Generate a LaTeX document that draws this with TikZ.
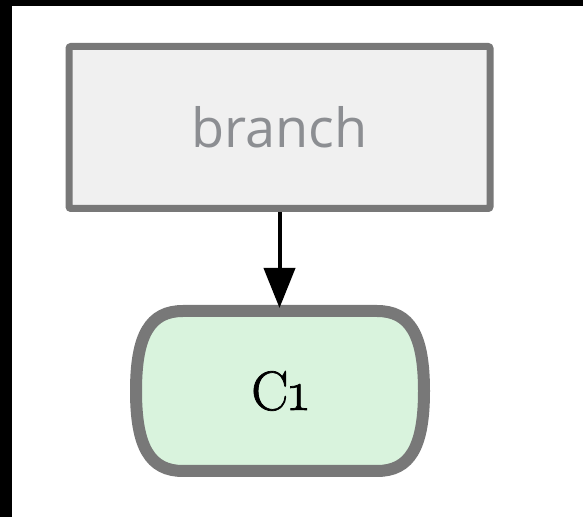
\documentclass[tikz,border=0pt]{standalone}
\usepackage{fontspec}
\setsansfont{Open Sans}
\newfontfamily\commitfont[FakeBold=1.3, Numbers=OldStyle]{Latin Modern Roman}
\usetikzlibrary{arrows.meta}
\definecolor{edgegray}{RGB}{120,120,120}
\definecolor{boxfill}{RGB}{240,240,240}
\definecolor{labelgray}{RGB}{140,142,146}
\definecolor{commitfill}{RGB}{217,243,221}
\tikzset{
  branchbox/.style={draw=edgegray, fill=boxfill, line width=3.5pt, rounded corners=1pt,
    minimum width=210.5pt, minimum height=81pt, inner sep=0pt,
    text=labelgray, font=\sffamily\fontsize{27pt}{33pt}\selectfont},
  commitlabel/.style={draw=none, minimum width=144pt, minimum height=80pt, inner sep=0pt,
    outer sep=1.5pt, font=\commitfont\fontsize{27.8pt}{33pt}\selectfont},
  commitshape/.style={draw=edgegray, fill=commitfill, line width=6pt},
  link/.style={draw=black, line width=2pt, -{Triangle[length=20pt,width=15.5pt]}}
}
\begin{document}
\begin{tikzpicture}[x=0.5pt,y=-0.5pt]
\useasboundingbox (0,0) rectangle (583,517);
\fill[black] (0,0) rectangle (583,517);
\fill[white] (12,6) rectangle (583,517);
% commit shape
\path[commitshape] (183,311) -- (377,311)
  .. controls (410,311) and (424,335) .. (424,391)
  .. controls (424,447) and (410,471) .. (377,471)
  -- (183,471)
  .. controls (150,471) and (136,447) .. (136,391)
  .. controls (136,335) and (150,311) .. (183,311) -- cycle;
\node[commitlabel] (c1) at (280,391) {C1};
\node[branchbox] (branch) at (279.5,127.5) {branch};
\draw[link] (branch.south) -- (branch.south |- c1.north);
\end{tikzpicture}
\end{document}
